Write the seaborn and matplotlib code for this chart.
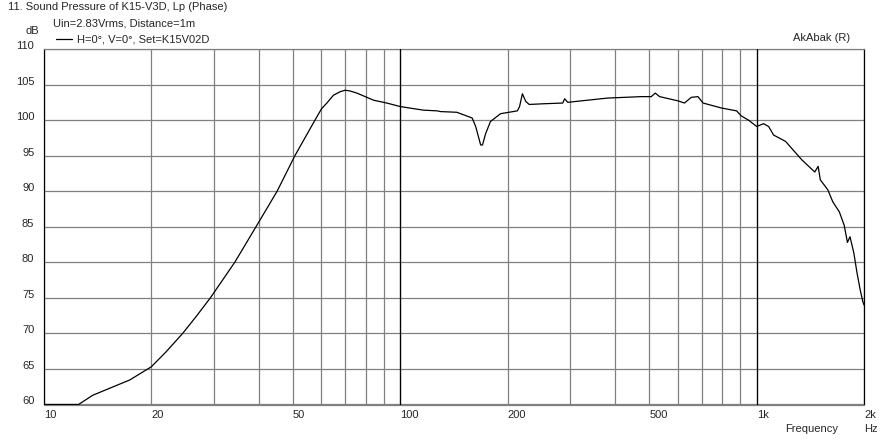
import matplotlib
matplotlib.use("Agg")
import matplotlib.pyplot as plt
import seaborn as sns
import pandas as pd

# frequency response (Hz, dB)
freq_hz = [10, 12.5, 13.7, 17.4, 20, 22, 24.5, 26.7, 29.3, 34.3, 40.0, 45.1, 50.6,
           57.6, 60.1, 62.2, 64.9, 67.8, 70, 72.2, 75.5, 84.1,
           91.6, 100, 116, 126.9, 129.6, 144, 159, 162.7, 168, 170,
           173.5, 179, 191, 213, 216, 220, 225, 230, 253, 285.5, 289, 295, 321,
           382, 474, 506, 519, 534, 602, 627, 655, 684, 707, 796, 878, 904, 948,
           1000, 1045, 1080, 1115, 1205, 1339, 1455, 1487, 1508, 1583, 1635, 1705,
           1760, 1797, 1827, 1873, 1912, 1952, 1984, 2000]
spl_db = [60, 60, 61.3, 63.45, 65.3, 67.4, 70.0, 72.35, 75.0, 80.0, 85.6, 90.0, 95.0,
          100.0, 101.6, 102.4, 103.5, 104.0, 104.2, 104.1, 103.8, 102.8,
          102.4, 101.9, 101.4, 101.3, 101.2, 101.1, 100.3, 99.1, 96.5, 96.5,
          98.1, 99.8, 100.9, 101.3, 101.9, 103.7, 102.6, 102.2, 102.3, 102.4, 103.0, 102.5, 102.7,
          103.1, 103.3, 103.3, 103.8, 103.3, 102.7, 102.4, 103.2, 103.3, 102.4, 101.7, 101.3, 100.6, 100.0,
          99.1, 99.5, 99.1, 97.9, 97.0, 94.4, 92.7, 93.5, 91.6, 90.2, 88.5, 87.1,
          85.2, 82.8, 83.6, 81.3, 78.5, 76.1, 74.5, 74.0]

x_major = [10, 20, 50, 100, 200, 500, 1000, 2000]
x_labels = ["10", "20", "50", "100", "200", "500", "1k", "2k"]
x_minor = [30, 40, 60, 70, 80, 90, 300, 400, 600, 700, 800, 900]
y_ticks = list(range(60, 111, 5))

W, H = 889, 441
GRAY = "#808080"

sns.set_style("white")
plt.rcParams["font.family"] = ["Liberation Sans", "DejaVu Sans"]
plt.rcParams["font.size"] = 8

fig = plt.figure(figsize=(W / 100, H / 100), dpi=100)
ax = fig.add_axes([44 / W, 1 - 404.5 / H, 820 / W, 355.5 / H])

df = pd.DataFrame({"Frequency": freq_hz, "SPL": spl_db})
sns.lineplot(data=df, x="Frequency", y="SPL", ax=ax, color="black", lw=0.9,
             label="H=0°, V=0°, Set=K15V02D", zorder=5)

ax.set_xscale("log")
ax.set_xlim(10, 2000)
ax.set_ylim(60, 110)
ax.set_xticks(x_major)
ax.set_xticklabels(x_labels, ha="left")
ax.set_xticks(x_minor, minor=True)
ax.set_yticks(y_ticks)
ax.set_yticklabels([str(v) for v in y_ticks], va="baseline")

ax.grid(True, which="both", color=GRAY, lw=0.9)
for f in (100, 1000):
    ax.axvline(f, color="black", lw=0.9, zorder=3)

ax.tick_params(axis="x", which="major", length=3, width=0.9, color=GRAY, pad=1, labelsize=8)
ax.tick_params(axis="x", which="minor", length=0)
ax.tick_params(axis="y", length=4, width=0.9, color=GRAY, pad=3, labelsize=8)

for side in ("left", "right"):
    ax.spines[side].set_color("black")
    ax.spines[side].set_linewidth(0.9)
for side in ("top", "bottom"):
    ax.spines[side].set_color(GRAY)
    ax.spines[side].set_linewidth(0.9)

ax.set_xlabel("")
ax.set_ylabel("")

ax.legend(loc="center left", bbox_to_anchor=(56 / W, 1 - 40 / H),
          bbox_transform=fig.transFigure, frameon=False, borderaxespad=0,
          borderpad=0, handlelength=1.4, handletextpad=0.5, fontsize=8)

fig.text(8 / W, 1 - 7 / H, "11. Sound Pressure of K15-V3D, Lp (Phase)", va="center", ha="left")
fig.text(53 / W, 1 - 24 / H, "Uin=2.83Vrms, Distance=1m", va="center", ha="left")
fig.text(25 / W, 1 - 31 / H, "dB", va="center", ha="left")
fig.text(793 / W, 1 - 38 / H, "AkAbak (R)", va="center", ha="left")
fig.text(785 / W, 1 - 429 / H, "Frequency", va="center", ha="left")
fig.text(864 / W, 1 - 429 / H, "Hz", va="center", ha="left")

fig.savefig("out.png", dpi=100, facecolor="white")
